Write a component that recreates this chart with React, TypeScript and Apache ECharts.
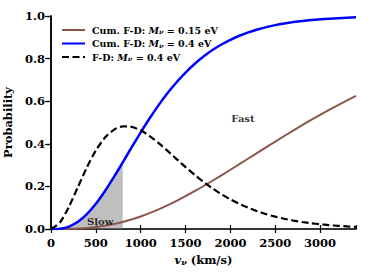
import React, { useEffect, useRef } from "react";
import * as echarts from "echarts";

// velocity grids (km/s)
const velocity100 = [0, 100, 200, 300, 400, 500, 600, 700, 800, 900, 1000, 1100, 1200, 1300, 1400, 1500, 1600, 1700, 1800, 1900, 2000, 2100, 2200, 2300, 2400, 2500, 2600, 2700, 2800, 2900, 3000, 3100, 3200, 3300, 3400];
const velocity200 = [0, 200, 400, 600, 800, 1000, 1200, 1400, 1600, 1800, 2000, 2200, 2400, 2600, 2800, 3000, 3200, 3400];

// F-D distribution, M = 0.4 eV (dashed)
const fd04 = [0, 0.0305, 0.1044, 0.197, 0.2895, 0.3689, 0.4286, 0.4657, 0.4817, 0.4796, 0.4632, 0.4365, 0.4033, 0.3665, 0.3283, 0.2907, 0.2548, 0.2214, 0.1908, 0.1634, 0.1391, 0.1178, 0.0992, 0.0832, 0.0696, 0.0579, 0.048, 0.0397, 0.0328, 0.027, 0.0222, 0.0182, 0.0148, 0.0121, 0.0099];
// Cumulative F-D, M = 0.4 eV (blue)
const cum04 = [0, 0.0017, 0.0114, 0.0336, 0.0695, 0.1182, 0.1771, 0.2432, 0.3131, 0.384, 0.4534, 0.5197, 0.5815, 0.6381, 0.6892, 0.7347, 0.7748, 0.8098, 0.8401, 0.8661, 0.8883, 0.9072, 0.9231, 0.9365, 0.9477, 0.9571, 0.9648, 0.9713, 0.9766, 0.981, 0.9846, 0.9876, 0.99, 0.992, 0.9936];
// Cumulative F-D, M = 0.15 eV (brown)
const cum015 = [0, 0.0007, 0.005, 0.0154, 0.0332, 0.0588, 0.092, 0.1317, 0.1773, 0.2265, 0.2781, 0.3311, 0.3843, 0.4367, 0.4874, 0.536, 0.5819, 0.6249];

const slowLimit = 800;
const yTicks = [0, 0.2, 0.4, 0.6, 0.8, 1.0];
const annotations = [
  { name: "Slow", value: [548, 0.034] },
  { name: "Fast", value: [2140, 0.517] },
];

const SERIF = "DejaVu Serif";

const rich = {
  b: { fontFamily: SERIF, fontWeight: "bold", fontSize: 9.5, color: "#000" },
  i: { fontFamily: SERIF, fontWeight: "bold", fontStyle: "italic", fontSize: 9.5, color: "#000" },
  s: { fontFamily: SERIF, fontWeight: "bold", fontStyle: "italic", fontSize: 6.5, color: "#000", padding: [4, 0, 0, 0] },
};
const richName = {
  b: { fontFamily: SERIF, fontWeight: "bold", fontSize: 11.5, color: "#000" },
  i: { fontFamily: SERIF, fontWeight: "bold", fontStyle: "italic", fontSize: 11.5, color: "#000" },
  s: { fontFamily: SERIF, fontWeight: "bold", fontStyle: "italic", fontSize: 8, color: "#000", padding: [5, 0, 0, 0] },
};

const legendText: Record<string, string> = {
  cum015: "{b|Cum. F-D: }{i|M}{s|ν}{b| = 0.15 eV}",
  cum04: "{b|Cum. F-D: }{i|M}{s|ν}{b| = 0.4 eV}",
  fd04: "{b|F-D: }{i|M}{s|ν}{b| = 0.4 eV}",
};

export default function App() {
  const ref = useRef<HTMLDivElement>(null);
  useEffect(() => {
    document.body.style.margin = "0";
    document.body.style.background = "#fff";
    const chart = echarts.init(ref.current!, null, { renderer: "svg" });
    const pairs = (xs: number[], ys: number[]) => xs.map((x, k) => [x, ys[k]]);
    const slowFill = pairs(velocity100, cum04).filter((p) => p[0] <= slowLimit);
    const baseX = { type: "value", min: 0, max: 3400, interval: 500 };
    const baseY = { type: "value", min: 0, max: 1, interval: 0.2 };
    chart.setOption({
      animation: false,
      backgroundColor: "#fff",
      grid: { left: 51, right: 18, top: 16, bottom: 51, containLabel: false, outerBoundsMode: "none" },
      legend: {
        data: ["cum015", "cum04", "fd04"],
        orient: "vertical",
        left: 56,
        top: 20,
        itemWidth: 23,
        itemHeight: 10,
        itemGap: 3,
        itemStyle: { opacity: 0 },
        formatter: (n: string) => legendText[n],
        textStyle: { rich, padding: [0, 0, 0, 2] },
      },
      xAxis: [
        {
          ...baseX,
          position: "bottom",
          name: "{i|v}{s|ν}{b| (km/s)}",
          nameLocation: "middle",
          nameGap: 21,
          nameTextStyle: { rich: richName },
          axisLine: { show: true, lineStyle: { color: "#000", width: 1.5 } },
          axisTick: { show: true, length: 4, lineStyle: { color: "#000", width: 1.2 } },
          axisLabel: {
            margin: 8,
            fontFamily: SERIF,
            fontWeight: "bold",
            fontSize: 11.5,
            color: "#000",
            showMaxLabel: false,
            formatter: (v: number) => (v % 500 === 0 ? String(v) : ""),
          },
          splitLine: { show: false },
        },
        {
          ...baseX,
          position: "top",
          axisLine: { show: true, lineStyle: { color: "#333", width: 1.5 } },
          axisTick: { show: false },
          axisLabel: { show: false },
          splitLine: { show: false },
        },
        {
          ...baseX,
          position: "bottom",
          axisLine: { show: false },
          axisTick: { show: true, inside: true, length: 4, lineStyle: { color: "#000", width: 1.2 } },
          axisLabel: { show: false },
          splitLine: { show: false },
        },
      ],
      yAxis: [
        {
          ...baseY,
          position: "left",
          name: "Probability",
          nameLocation: "middle",
          nameGap: 28,
          nameTextStyle: { fontFamily: SERIF, fontWeight: "bold", fontSize: 11.5, color: "#000" },
          axisLine: { show: true, lineStyle: { color: "#000", width: 1.5 } },
          axisTick: { show: true, length: 4, lineStyle: { color: "#000", width: 1.2 } },
          axisLabel: {
            margin: 6,
            fontFamily: SERIF,
            fontWeight: "bold",
            fontSize: 11.5,
            color: "#000",
            formatter: (v: number) => (yTicks.some((t) => Math.abs(t - v) < 1e-9) ? v.toFixed(1) : ""),
          },
          splitLine: { show: false },
        },
        {
          ...baseY,
          position: "right",
          axisLine: { show: true, lineStyle: { color: "#000", width: 1.5 } },
          axisTick: { show: true, inside: true, length: 6, lineStyle: { color: "#000", width: 1.2 } },
          axisLabel: { show: false },
          splitLine: { show: false },
        },
      ],
      series: [
        {
          name: "slow",
          type: "line",
          data: slowFill,
          symbol: "none",
          lineStyle: { width: 0 },
          areaStyle: { color: "rgba(128,128,128,0.5)", opacity: 1 },
          silent: true,
          z: 1,
        },
        {
          name: "cum015",
          type: "line",
          data: pairs(velocity200, cum015),
          symbol: "none",
          smooth: 0.2,
          color: "#8c564b",
          lineStyle: { color: "#8c564b", width: 2 },
          z: 2,
        },
        {
          name: "cum04",
          type: "line",
          data: pairs(velocity100, cum04),
          symbol: "none",
          smooth: 0.2,
          color: "#0000ff",
          lineStyle: { color: "#0000ff", width: 2.5 },
          z: 3,
        },
        {
          name: "fd04",
          type: "line",
          data: pairs(velocity100, fd04),
          symbol: "none",
          smooth: 0.2,
          color: "#000",
          lineStyle: { color: "#000", width: 2.2, type: [7, 3.5] },
          z: 4,
        },
        {
          name: "annot",
          type: "scatter",
          data: annotations,
          symbolSize: 0,
          silent: true,
          label: {
            show: true,
            position: "inside",
            formatter: (p: any) => p.name,
            fontFamily: SERIF,
            fontWeight: "bold",
            fontSize: 10,
            color: "#000",
          },
          z: 5,
        },
      ],
    });
    return () => chart.dispose();
  }, []);
  return <div ref={ref} style={{ position: "absolute", left: 0, top: 0, width: 374, height: 280 }} />;
}
